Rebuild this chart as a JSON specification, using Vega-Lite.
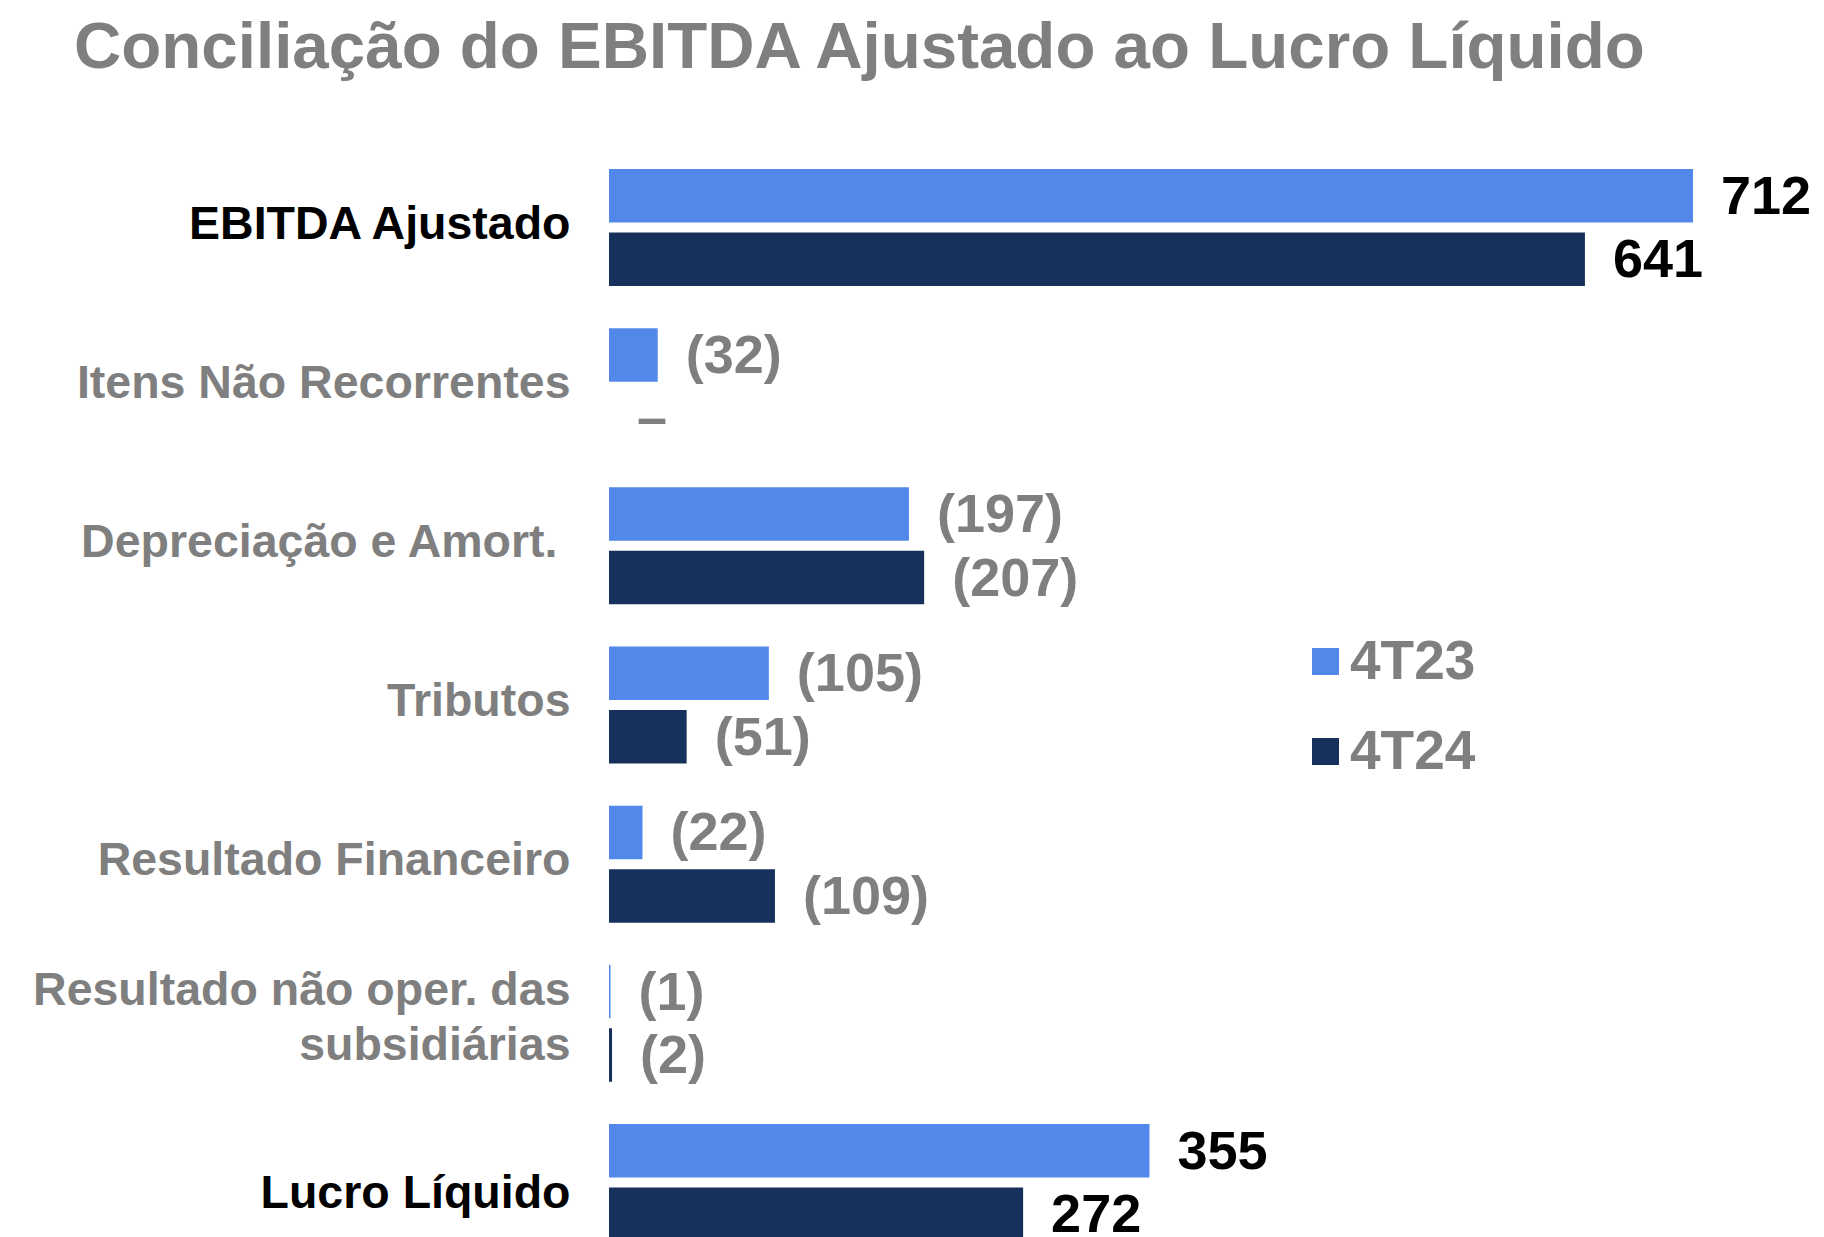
{
  "$schema": "https://vega.github.io/schema/vega-lite/v6.json",
  "autosize": {"type": "none"},
  "padding": {"left": 609, "top": 148, "right": 0, "bottom": 0},
  "width": 1218,
  "height": 1114,
  "background": "white",
  "title": {
    "text": "Conciliação do EBITDA Ajustado ao Lucro Líquido",
    "anchor": "start",
    "frame": "group",
    "dx": -535,
    "offset": 15,
    "font": "Liberation Sans",
    "fontSize": 65.5,
    "fontWeight": "bold",
    "color": "#7f7f7f",
    "baseline": "alphabetic"
  },
  "data": {
    "values": [
      {"item": "EBITDA Ajustado", "periodo": "4T23", "valor": 712, "rotulo": "712"},
      {"item": "EBITDA Ajustado", "periodo": "4T24", "valor": 641, "rotulo": "641"},
      {"item": "Itens Não Recorrentes", "periodo": "4T23", "valor": 32, "rotulo": "(32)"},
      {"item": "Itens Não Recorrentes", "periodo": "4T24", "valor": 0, "rotulo": "–"},
      {"item": "Depreciação e Amort.", "periodo": "4T23", "valor": 197, "rotulo": "(197)"},
      {"item": "Depreciação e Amort.", "periodo": "4T24", "valor": 207, "rotulo": "(207)"},
      {"item": "Tributos", "periodo": "4T23", "valor": 105, "rotulo": "(105)"},
      {"item": "Tributos", "periodo": "4T24", "valor": 51, "rotulo": "(51)"},
      {"item": "Resultado Financeiro", "periodo": "4T23", "valor": 22, "rotulo": "(22)"},
      {"item": "Resultado Financeiro", "periodo": "4T24", "valor": 109, "rotulo": "(109)"},
      {"item": "Resultado não oper. das|subsidiárias", "periodo": "4T23", "valor": 1, "rotulo": "(1)"},
      {"item": "Resultado não oper. das|subsidiárias", "periodo": "4T24", "valor": 2, "rotulo": "(2)"},
      {"item": "Lucro Líquido", "periodo": "4T23", "valor": 355, "rotulo": "355"},
      {"item": "Lucro Líquido", "periodo": "4T24", "valor": 272, "rotulo": "272"}
    ]
  },
  "encoding": {
    "y": {
      "field": "item",
      "type": "nominal",
      "sort": null,
      "scale": {"paddingInner": 0.265, "paddingOuter": 0.1325},
      "axis": {
        "title": null,
        "domain": false,
        "ticks": false,
        "grid": false,
        "labelPadding": {
          "condition": {"test": "datum.value == 'Depreciação e Amort.'", "value": 52},
          "value": 39
        },
        "labelOffset": {
          "condition": [
            {"test": "datum.value == 'Lucro Líquido'", "value": 12},
            {"test": "indexof(datum.value, '|') >= 0", "value": -32}
          ],
          "value": -3
        },
        "labelFont": "Liberation Sans",
        "labelFontSize": 46.5,
        "labelFontWeight": "bold",
        "labelLimit": 1000,
        "labelLineHeight": 55,
        "labelExpr": "split(datum.label, '|')",
        "labelColor": {
          "condition": {"test": "datum.value == 'EBITDA Ajustado' || datum.value == 'Lucro Líquido'", "value": "#000000"},
          "value": "#7f7f7f"
        }
      }
    },
    "yOffset": {
      "field": "periodo",
      "type": "nominal",
      "sort": ["4T23", "4T24"],
      "scale": {"paddingInner": 0.157, "paddingOuter": 0}
    },
    "x": {
      "field": "valor",
      "type": "quantitative",
      "scale": {"domain": [0, 800], "nice": false},
      "axis": null
    }
  },
  "layer": [
    {
      "mark": {"type": "bar"},
      "encoding": {
        "color": {
          "field": "periodo",
          "type": "nominal",
          "scale": {"domain": ["4T23", "4T24"], "range": ["#5388EB", "#17315D"]},
          "legend": {
            "title": null,
            "orient": "none",
            "legendX": 689,
            "legendY": 486,
            "padding": 0,
            "symbolType": "square",
            "symbolSize": 729,
            "symbolStrokeWidth": 0,
            "labelFont": "Liberation Sans",
            "labelFontSize": 55,
            "labelFontWeight": "bold",
            "labelColor": "#7f7f7f",
            "labelOffset": -3,
            "rowPadding": 34
          }
        }
      }
    },
    {
      "mark": {
        "type": "text",
        "align": "left",
        "baseline": "middle",
        "dx": 28,
        "dy": 2,
        "font": "Liberation Sans",
        "fontSize": 54,
        "fontWeight": "bold"
      },
      "encoding": {
        "text": {"field": "rotulo"},
        "color": {
          "condition": {"test": "datum.item == 'EBITDA Ajustado' || datum.item == 'Lucro Líquido'", "value": "#000000"},
          "value": "#7f7f7f"
        }
      }
    }
  ],
  "config": {"view": {"stroke": null}}
}
